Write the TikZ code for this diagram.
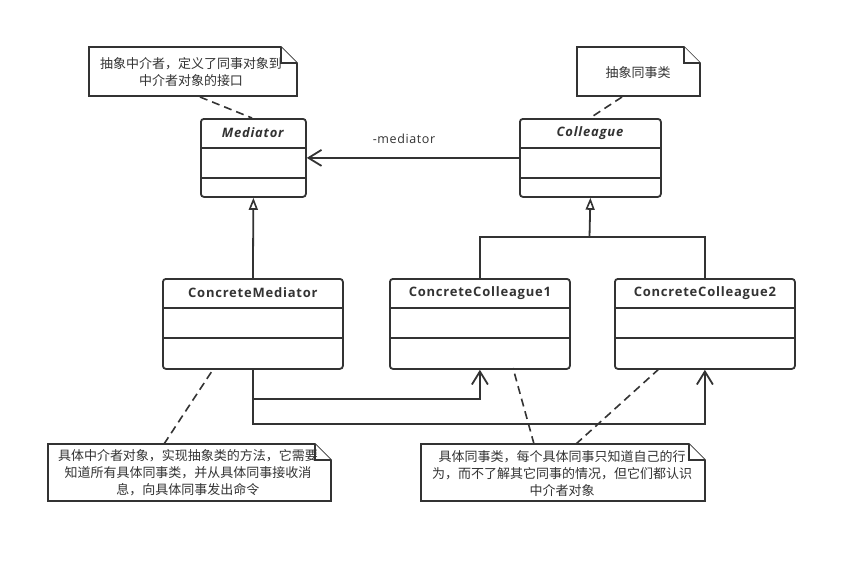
\documentclass[tikz,border=0pt]{standalone}
\usepackage{fontspec}
\setmainfont{Open Sans}[LetterSpace=5]
\newfontfamily\titlefont{Open Sans}[LetterSpace=6]
\newfontfamily\cjk{Noto Sans CJK SC}
\usetikzlibrary{arrows.meta,calc}
\definecolor{lc}{HTML}{333333}
\tikzset{
  cls/.style={draw=lc, line width=1.8pt, rounded corners=3pt, fill=white, anchor=north west, inner sep=0pt},
  cline/.style={draw=lc, line width=1.8pt},
  ctitle/.style={text=lc, font=\titlefont\fontsize{13}{15}\selectfont\bfseries, inner sep=0pt},
  notebox/.style={draw=lc, line width=1.7pt, fill=white},
  notetext/.style={text=lc, font=\cjk\fontsize{13}{17}\selectfont, align=center, inner sep=0pt},
  anchorline/.style={draw=lc, line width=1.6pt, dash pattern=on 8pt off 5pt},
  gen/.style={draw=lc, line width=1.8pt, -{Triangle[open, length=12pt, width=9pt, fill=white, line width=1.6pt]}},
  nav/.style={draw=lc, line width=1.8pt, -{Straight Barb[length=13pt, width=16pt, line width=1.8pt]}},
  plain/.style={draw=lc, line width=1.8pt}
}
\newcommand\umlnote[5]{% name, x1, y1, x2, y2
  \node[inner sep=0pt, minimum width=#4-#2, minimum height=#5-#3, anchor=north west] (#1) at (#2,#3) {};
  \draw[notebox] (#2,#3) -- (#4-16,#3) -- (#4,#3+16) -- (#4,#5) -- (#2,#5) -- cycle;
  \draw[notebox] (#4-16,#3) -- (#4-16,#3+16) -- (#4,#3+16);
}
\newcommand\umlclass[6]{% name, x, y, w, h, title
  \node[cls, minimum width=#4, minimum height=#5] (#1) at (#2,#3) {};
  \node[ctitle] (#1-t) at ($(#1.north)+(0,15)$) {#6};
  \draw[cline] ($(#1.north west)+(0,30)$) -- ($(#1.north east)+(0,30)$);
  \draw[cline] ($(#1.north west)+(0,60)$) -- ($(#1.north east)+(0,60)$);
}
\begin{document}
\begin{tikzpicture}[x=1pt,y=-1pt]
\useasboundingbox[fill=white] (0,0) rectangle (855,563);

% classes
\umlclass{med}{200}{118}{105}{78}{\textit{Mediator}}
\umlclass{col}{519}{118}{141}{78}{\textit{Colleague}}
\umlclass{cm}{162}{278}{180}{90}{ConcreteMediator}
\umlclass{ca}{389}{278}{180}{90}{ConcreteColleague1}
\umlclass{cb}{614}{278}{180}{90}{ConcreteColleague2}

% notes
\umlnote{n1}{89}{47}{297}{96}
\node[notetext] (n1t) at (191,72.5) {抽象中介者，定义了同事对象到\\中介者对象的接口};
\umlnote{n2}{577}{47}{700}{96}
\node[notetext] (n2t) at (638,73) {抽象同事类};
\umlnote{n3}{48}{444}{331}{501}
\node[notetext] (n3t) at (188,473) {具体中介者对象，实现抽象类的方法，它需要\\知道所有具体同事类，并从具体同事接收消\\息，向具体同事发出命令};
\umlnote{n4}{421}{444}{705}{501}
\node[notetext] (n4t) at (562,474) {具体同事类，每个具体同事只知道自己的行\\为，而不了解其它同事的情况，但它们都认识\\中介者对象};

% anchor lines
\coordinate (n1a) at (200,97);
\coordinate (meda) at (252,118);
\draw[anchorline] (n1a) -- (meda);
\coordinate (n2a) at (622,97);
\coordinate (cola) at (590,118);
\draw[anchorline] (n2a) -- (cola);
\coordinate (n3a) at (164,444);
\coordinate (cma) at (214,368);
\draw[anchorline] (n3a) -- (cma);
\coordinate (n4a) at (534,444);
\coordinate (caa) at (513,368);
\draw[anchorline] (n4a) -- (caa);
\coordinate (n4b) at (576,444);
\coordinate (cba) at (660,368);
\draw[anchorline] (n4b) -- (cba);

% association
\draw[nav] (col.west) -- (med.east);
\node[text=lc, font=\fontsize{12.5}{15}\selectfont, inner sep=0pt] (assoclbl) at (404,139) {-mediator};

% generalizations
\draw[gen] (cm.north) -- (med.south);
\coordinate (jn) at (589.5,237);
\draw[plain] (ca.north) |- (jn) -| (cb.north);
\draw[gen] (jn) -- (col.south);

% navigations
\draw[nav] (cm.south) -- ++(0,29) -| (ca.south);
\draw[nav] (cm.south) -- ++(0,54) -| (cb.south);
\end{tikzpicture}
\end{document}
